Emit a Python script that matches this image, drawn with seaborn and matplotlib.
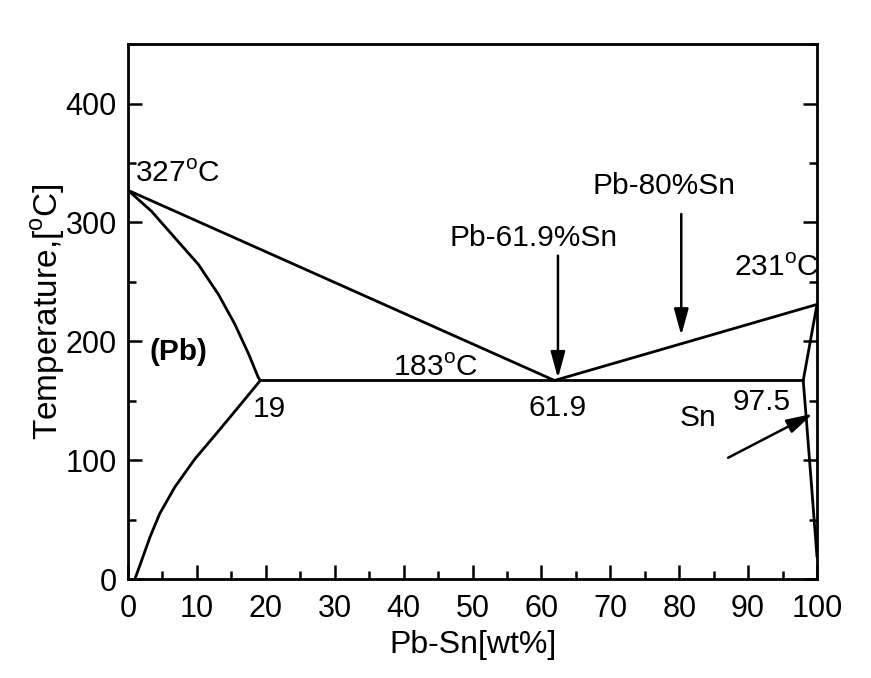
import matplotlib
matplotlib.use("Agg")
import matplotlib.pyplot as plt
import seaborn as sns
import pandas as pd
from matplotlib.ticker import MultipleLocator

sns.set_style("ticks")
plt.rcParams['font.family'] = ['Liberation Sans', 'DejaVu Sans']
plt.rcParams['mathtext.fontset'] = 'custom'
plt.rcParams['mathtext.rm'] = 'Liberation Sans'
plt.rcParams['text.color'] = 'black'
plt.rcParams['axes.labelcolor'] = 'black'

# Phase boundaries (wt% Sn, temperature °C)
liquidus_x = [0, 61.9, 100]
liquidus_y = [327, 167, 231]
eutectic_x = [19.2, 98.0]
eutectic_y = [167, 167]
pb_solidus_x = [0, 3.4, 6.8, 10.2, 13.1, 15.5, 17.5, 18.9, 19.2]
pb_solidus_y = [327, 309.4, 287, 264.7, 239.6, 214.4, 189.3, 169.6, 167]
pb_solvus_x = [1.0, 2.0, 3.2, 4.6, 6.8, 9.7, 12.6, 16.0, 19.2]
pb_solvus_y = [0, 16, 35.5, 55, 77.4, 101, 120.8, 144.5, 167]
sn_solidus_x = [98.0, 100]
sn_solidus_y = [167, 231]
sn_solvus_x = [98.0, 98.5, 99.4, 100]
sn_solvus_y = [167, 131, 64, 18.5]

curves = {
    "liquidus": (liquidus_x, liquidus_y),
    "eutectic": (eutectic_x, eutectic_y),
    "pb_solidus": (pb_solidus_x, pb_solidus_y),
    "pb_solvus": (pb_solvus_x, pb_solvus_y),
    "sn_solidus": (sn_solidus_x, sn_solidus_y),
    "sn_solvus": (sn_solvus_x, sn_solvus_y),
}
rows = []
for name, (xs, ys) in curves.items():
    for x, y in zip(xs, ys):
        rows.append({"x": x, "y": y, "curve": name})
df = pd.DataFrame(rows)

fig = plt.figure(figsize=(8.71, 6.78), dpi=100)
ax = fig.add_axes([0.147, 0.146, 0.791, 0.789])

sns.lineplot(data=df, x="x", y="y", units="curve", estimator=None, sort=False,
             color="black", linewidth=2.0, ax=ax, legend=False)

ax.set_xlim(0, 100)
ax.set_ylim(0, 450)
ax.xaxis.set_major_locator(MultipleLocator(10))
ax.xaxis.set_minor_locator(MultipleLocator(5))
ax.yaxis.set_minor_locator(MultipleLocator(50))
ax.yaxis.set_ticks([0, 100, 200, 300, 400])
ax.tick_params(which='both', direction='in', top=False, right=True, width=1.8,
               labelsize=22, colors='black')
ax.tick_params(which='major', length=10)
ax.tick_params(which='minor', length=6)
ax.tick_params(axis='x', which='major', pad=11)
ax.tick_params(axis='y', which='major', pad=8)
for s in ax.spines.values():
    s.set_linewidth(2.0)
    s.set_color('black')

ax.set_xlabel("Pb-Sn[wt%]", fontsize=23, labelpad=4)
ax.set_ylabel("Temperature,[$^\\mathregular{o}$C]", fontsize=24, labelpad=-1)

fs = 21.5
ax.text(1.0, 334, "327$^\\mathregular{o}$C", fontsize=fs, ha='left', va='baseline')
ax.text(7.3, 191, "(Pb)", fontsize=fs, fontweight='bold', ha='center', va='center')
ax.text(44.6, 171, "183$^\\mathregular{o}$C", fontsize=fs, ha='center', va='baseline')
ax.text(20.5, 155, "19", fontsize=fs, ha='center', va='top')
ax.text(62.4, 156, "61.9", fontsize=fs, ha='center', va='top')
ax.text(91.9, 161, "97.5", fontsize=fs, ha='center', va='top')
ax.text(82.7, 147, "Sn", fontsize=fs, ha='center', va='top')
ax.text(100.3, 255, "231$^\\mathregular{o}$C", fontsize=fs, ha='right', va='baseline')
ax.text(58.9, 280, "Pb-61.9%Sn", fontsize=fs, ha='center', va='baseline')
ax.text(77.8, 324, "Pb-80%Sn", fontsize=fs, ha='center', va='baseline')

arrow = dict(arrowstyle='-|>,head_length=0.8,head_width=0.22', color='black',
             lw=1.8, mutation_scale=20, shrinkA=0, shrinkB=0)
ax.annotate("", xy=(62.4, 169), xytext=(62.4, 272), arrowprops=arrow)
ax.annotate("", xy=(80.3, 205), xytext=(80.3, 307), arrowprops=arrow)
ax.annotate("", xy=(99.4, 139), xytext=(87.1, 102), arrowprops=arrow)

fig.savefig("out.png", dpi=100)
